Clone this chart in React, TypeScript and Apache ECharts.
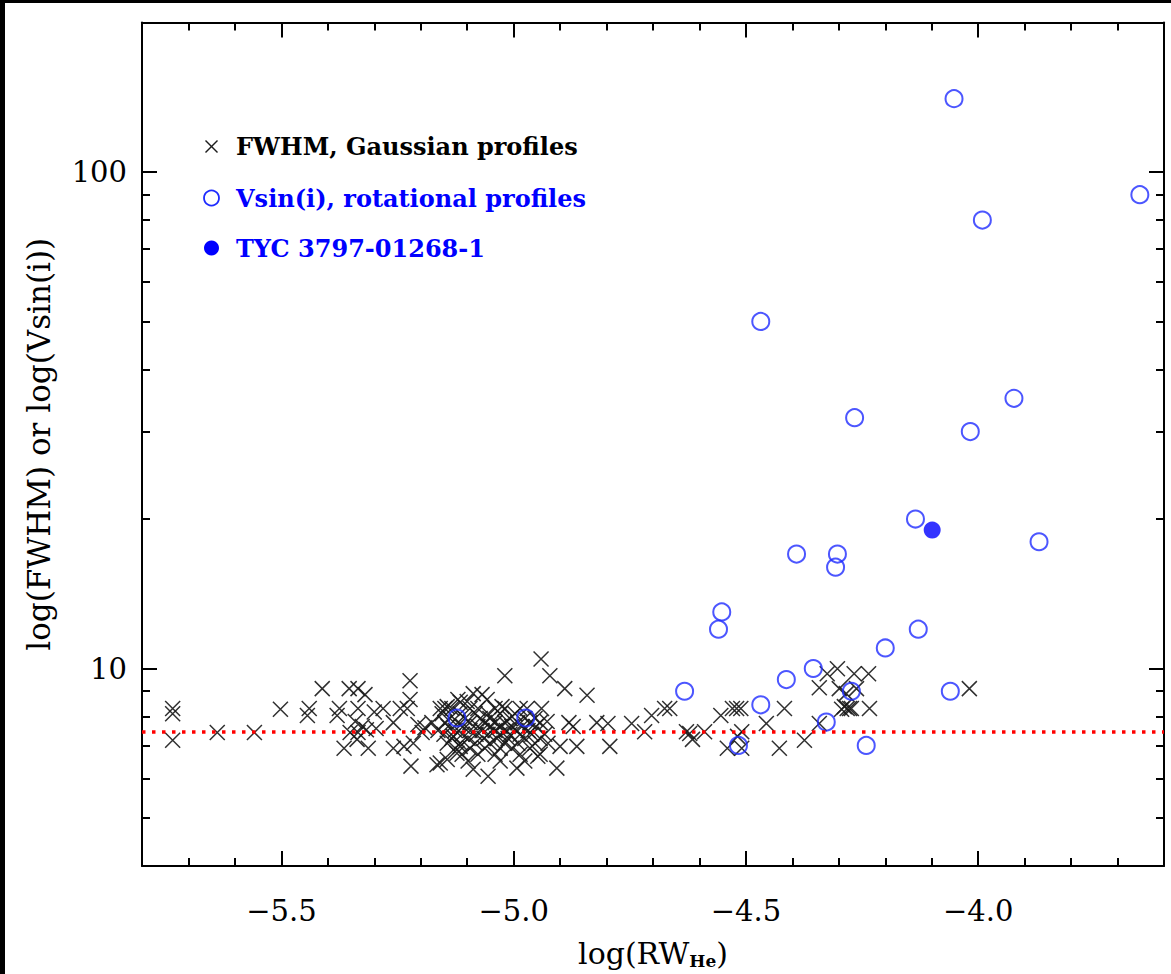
import React, { useEffect, useRef } from 'react';
import * as echarts from 'echarts';

// ---- axis ranges & ticks ----
const X_MIN = -5.8;
const X_MAX = -3.6;
const Y_MIN = 4;
const Y_MAX = 200;
const xMajorTicks = [-5.5, -5.0, -4.5, -4.0];
const xMinorTicks = [-5.7, -5.6, -5.4, -5.3, -5.2, -5.1, -4.9, -4.8, -4.7, -4.6, -4.4, -4.3, -4.2, -4.1, -3.9, -3.8, -3.7];
const yMajorTicks = [10, 100];
const yMinorTicks = [5, 6, 7, 8, 9, 20, 30, 40, 50, 60, 70, 80, 90];

// ---- reference level (red dotted line) ----
const thresholdFWHM = 7.45;

// ---- legend labels ----
const legendLabels = ['FWHM, Gaussian profiles', 'Vsin(i), rotational profiles', 'TYC 3797-01268-1'];

// ---- FWHM, Gaussian profiles (crosses) ----
const fwhmSparse: [number, number][] = [
  [-5.734, 8.31], [-5.734, 8.11], [-5.734, 7.17], [-5.638, 7.43], [-5.558, 7.43], [-5.502, 8.28],
  [-5.440, 8.31], [-5.444, 8.04], [-5.412, 9.11], [-5.375, 8.31], [-5.380, 8.04], [-5.354, 9.11],
  [-5.335, 9.11], [-5.320, 8.86], [-5.335, 8.31], [-5.341, 7.82], [-5.326, 7.64], [-5.352, 7.43],
  [-5.335, 7.43], [-5.317, 7.53], [-5.365, 6.91], [-5.313, 6.91], [-5.337, 7.20], [-5.300, 8.17],
  [-5.281, 8.31], [-5.296, 7.57], [-5.259, 7.78], [-5.244, 8.31], [-5.223, 9.45], [-5.223, 8.66],
  [-5.229, 8.31], [-5.259, 6.91], [-5.236, 6.97], [-5.216, 7.07], [-5.221, 6.36], [-5.165, 6.40],
  [-5.206, 7.71], [-5.191, 7.60], [-5.176, 7.78], [-5.163, 7.50], [-5.197, 7.43], [-5.158, 8.31],
  [-5.143, 8.38], [-5.130, 7.30], [-5.115, 6.97], [-5.122, 6.75], [-5.143, 6.56], [-5.087, 6.27],
  [-5.115, 8.55], [-5.100, 8.58], [-5.087, 8.90], [-5.068, 8.86], [-5.057, 8.66], [-5.120, 8.66],
  [-5.025, 8.38], [-5.055, 6.07], [-4.993, 6.30],
  [-4.941, 10.45], [-5.019, 9.67], [-4.922, 9.67], [-4.890, 9.11], [-4.842, 8.83], [-4.940, 8.31],
  [-4.928, 7.82], [-4.881, 7.78], [-4.872, 7.64], [-4.821, 7.78], [-4.797, 7.75], [-4.900, 6.97],
  [-4.864, 6.97], [-4.793, 6.97], [-4.948, 6.66], [-4.907, 6.30], [-5.158, 6.45],
  [-4.746, 7.75], [-4.703, 8.04], [-4.718, 7.46], [-4.675, 8.31], [-4.664, 8.31], [-4.628, 7.46],
  [-4.621, 7.40], [-4.615, 7.20], [-4.589, 7.46], [-4.554, 8.04], [-4.529, 8.31], [-4.520, 8.31],
  [-4.511, 8.31], [-4.509, 7.46], [-4.518, 7.30], [-4.540, 6.91], [-4.509, 6.91], [-4.456, 7.75],
  [-4.428, 6.91], [-4.417, 8.31], [-4.374, 7.17], [-4.342, 7.75], [-4.342, 9.15], [-4.325, 9.76],
  [-4.303, 9.99], [-4.267, 9.76], [-4.236, 9.76], [-4.299, 9.11], [-4.288, 8.38], [-4.282, 8.31],
  [-4.294, 8.28], [-4.277, 8.31], [-4.273, 8.31], [-4.234, 8.31], [-4.262, 9.11], [-4.019, 9.11],
  [-4.284, 8.90],
];

const fwhmCluster: [number, number][] = [
  [-5.148, 8.31], [-5.133, 8.31], [-5.094, 8.31], [-5.077, 8.31], [-5.040, 8.31], [-5.019, 8.31], [-4.986, 8.31], [-4.971, 8.31],
  [-5.154, 8.11], [-5.115, 8.11], [-5.083, 8.11], [-5.055, 8.11], [-5.029, 8.11], [-4.997, 8.11],
  [-5.137, 7.93], [-5.105, 7.93], [-5.072, 7.93], [-5.051, 7.93], [-5.008, 7.93], [-4.976, 7.93], [-4.954, 7.93],
  [-5.148, 7.78], [-5.120, 7.78], [-5.094, 7.78], [-5.062, 7.78], [-5.040, 7.78], [-5.019, 7.78], [-4.991, 7.78], [-4.965, 7.78], [-4.943, 7.78],
  [-5.141, 7.64], [-5.109, 7.64], [-5.077, 7.64], [-5.051, 7.64], [-5.029, 7.64], [-5.004, 7.64], [-4.982, 7.64], [-4.952, 7.64],
  [-5.126, 7.50], [-5.094, 7.50], [-5.068, 7.50], [-5.040, 7.50], [-5.016, 7.50], [-4.995, 7.50], [-4.969, 7.50],
  [-5.150, 7.37], [-5.111, 7.37], [-5.081, 7.37], [-5.055, 7.37], [-5.029, 7.37], [-5.008, 7.37], [-4.986, 7.37], [-4.961, 7.37], [-4.933, 7.37],
  [-5.133, 7.23], [-5.098, 7.23], [-5.064, 7.23], [-5.036, 7.23], [-5.012, 7.23], [-4.976, 7.23], [-4.943, 7.23],
  [-5.143, 7.07], [-5.115, 7.07], [-5.083, 7.07], [-5.051, 7.07], [-5.019, 7.07], [-4.991, 7.07], [-4.954, 7.07], [-4.926, 7.07],
  [-5.126, 6.91], [-5.094, 6.91], [-5.062, 6.91], [-5.029, 6.91], [-5.004, 6.91], [-4.965, 6.91],
  [-5.111, 6.72], [-5.077, 6.72], [-5.040, 6.72], [-4.986, 6.72], [-4.943, 6.72],
  [-5.098, 6.51], [-5.029, 6.51], [-4.976, 6.51],
];

// ---- Vsin(i), rotational profiles (open circles) ----
const vsiniPoints: [number, number][] = [
  [-4.052, 140.5], [-3.652, 90], [-3.991, 80], [-4.468, 50], [-3.923, 35], [-4.266, 32],
  [-4.017, 30], [-4.135, 20], [-3.869, 18], [-4.391, 17], [-4.303, 17], [-4.307, 16],
  [-4.552, 13], [-4.559, 12], [-4.129, 12], [-4.200, 11], [-4.355, 10], [-4.632, 9.0],
  [-4.273, 9.0], [-4.060, 9.0], [-4.413, 9.5], [-4.327, 7.8], [-4.241, 7.0], [-4.468, 8.45],
  [-4.516, 7.0], [-5.122, 7.95], [-4.974, 7.95],
];

// ---- TYC 3797-01268-1 (filled circle) ----
const tycPoint: [number, number][] = [[-4.099, 19.0]];

const SERIF = "'DejaVu Serif', serif";
const BLUE = '#1f2cff';

export default function App() {
  const ref = useRef<HTMLDivElement>(null);

  useEffect(() => {
    const chart = echarts.init(ref.current!, null, { renderer: 'svg' });
    const axisLineStyle = { color: '#000', width: 2 };
    const hidden = {
      splitLine: { show: false },
      axisLine: { show: false, onZero: false },
      axisLabel: { show: false },
    };
    const xBase = { type: 'value', min: X_MIN, max: X_MAX, ...hidden };
    const yBase = { type: 'log', logBase: 10, min: Y_MIN, max: Y_MAX, ...hidden };
    const majorTick = (vals: number[]) => ({ show: true, inside: true, length: 15, customValues: vals, lineStyle: axisLineStyle });
    const minorTick = (vals: number[]) => ({ show: true, inside: true, length: 8, customValues: vals, lineStyle: axisLineStyle });
    const fmtX = (v: number) => (v < 0 ? '\u2212' : '') + Math.abs(v).toFixed(1);

    const option: any = {
      animation: false,
      backgroundColor: '#fff',
      grid: { left: 142, top: 22.5, right: 7, bottom: 103, containLabel: false },
      xAxis: [
        {
          ...xBase,
          position: 'bottom',
          axisLine: { show: true, onZero: false, lineStyle: axisLineStyle },
          axisTick: majorTick(xMajorTicks),
          axisLabel: { show: true, customValues: xMajorTicks, formatter: fmtX, fontFamily: SERIF, fontSize: 29, color: '#000', margin: 30 },
          name: 'log(RW{sub|He})',
          nameLocation: 'middle',
          nameGap: 56,
          nameTextStyle: {
            fontFamily: SERIF, fontSize: 30, color: '#000', lineHeight: 32,
            rich: { sub: { fontFamily: SERIF, fontSize: 17, fontWeight: 'bold', color: '#000', lineHeight: 17, padding: [22, 0, 0, 0], verticalAlign: 'bottom' } },
          },
        },
        { ...xBase, position: 'bottom', axisTick: minorTick(xMinorTicks) },
        { ...xBase, position: 'top', axisLine: { show: true, onZero: false, lineStyle: axisLineStyle }, axisTick: majorTick(xMajorTicks) },
        { ...xBase, position: 'top', axisTick: minorTick(xMinorTicks) },
      ],
      yAxis: [
        {
          ...yBase,
          position: 'left',
          axisLine: { show: true, onZero: false, lineStyle: axisLineStyle },
          axisTick: majorTick(yMajorTicks),
          axisLabel: { show: true, customValues: yMajorTicks, fontFamily: SERIF, fontSize: 29, color: '#000', margin: 15 },
          name: 'log(FWHM) or log(Vsin(i))',
          nameLocation: 'middle',
          nameGap: 88,
          nameTextStyle: { fontFamily: SERIF, fontSize: 31, color: '#000' },
        },
        { ...yBase, position: 'left', axisTick: minorTick(yMinorTicks) },
        { ...yBase, position: 'right', axisLine: { show: true, onZero: false, lineStyle: axisLineStyle }, axisTick: majorTick(yMajorTicks) },
        { ...yBase, position: 'right', axisTick: minorTick(yMinorTicks) },
      ],
      series: [
        {
          name: legendLabels[0],
          type: 'scatter',
          xAxisIndex: 0, yAxisIndex: 0,
          data: [...fwhmSparse, ...fwhmCluster],
          symbol: 'path://M0,0L10,10M10,0L0,10',
          symbolSize: 15,
          itemStyle: { color: 'transparent', borderColor: '#1a1a1a', borderWidth: 1.5, opacity: 0.9 },
          z: 2,
        },
        {
          name: legendLabels[1],
          type: 'scatter',
          xAxisIndex: 0, yAxisIndex: 0,
          data: vsiniPoints,
          symbol: 'circle',
          symbolSize: 17,
          itemStyle: { color: 'transparent', borderColor: BLUE, borderWidth: 2 },
          z: 3,
        },
        {
          name: legendLabels[2],
          type: 'scatter',
          xAxisIndex: 0, yAxisIndex: 0,
          data: tycPoint,
          symbol: 'circle',
          symbolSize: 17,
          itemStyle: { color: '#0000ff' },
          z: 3,
        },
        {
          name: 'threshold',
          type: 'line',
          xAxisIndex: 0, yAxisIndex: 0,
          data: [[X_MIN, thresholdFWHM], [X_MAX, thresholdFWHM]],
          symbol: 'none',
          lineStyle: { color: '#ff0000', width: 3.5, type: [3.5, 6.5] },
          z: 4,
        },
      ],
      graphic: [
        { type: 'rect', left: 0, top: 0, shape: { width: 1171, height: 3 }, style: { fill: '#000' }, z: 100 },
        { type: 'rect', left: 0, top: 0, shape: { width: 5, height: 974 }, style: { fill: '#000' }, z: 100 },
        {
          type: 'group', x: 211.5, y: 146.5, z: 50,
          children: [
            { type: 'line', shape: { x1: -6, y1: -6, x2: 6, y2: 6 }, style: { stroke: '#1c1c1c', lineWidth: 1.4 } },
            { type: 'line', shape: { x1: -6, y1: 6, x2: 6, y2: -6 }, style: { stroke: '#1c1c1c', lineWidth: 1.4 } },
          ],
        },
        { type: 'circle', x: 211.5, y: 198, shape: { cx: 0, cy: 0, r: 7.5 }, style: { fill: 'none', stroke: BLUE, lineWidth: 1.8 }, z: 50 },
        { type: 'circle', x: 211.5, y: 248, shape: { cx: 0, cy: 0, r: 7.5 }, style: { fill: '#0000ff' }, z: 50 },
        { type: 'text', x: 236, y: 146.5, z: 50, style: { text: legendLabels[0], fill: '#000', font: `bold 24px ${SERIF}`, textVerticalAlign: 'middle' } },
        { type: 'text', x: 236, y: 198, z: 50, style: { text: legendLabels[1], fill: '#0000ff', font: `bold 24px ${SERIF}`, textVerticalAlign: 'middle' } },
        { type: 'text', x: 236, y: 248, z: 50, style: { text: legendLabels[2], fill: '#0000ff', font: `bold 24px ${SERIF}`, textVerticalAlign: 'middle' } },
      ],
    };

    chart.setOption(option);
    return () => chart.dispose();
  }, []);

  return (
    <div style={{ position: 'fixed', left: 0, top: 0, width: 1171, height: 974, background: '#fff' }}>
      <div ref={ref} style={{ width: 1171, height: 974 }} />
    </div>
  );
}
